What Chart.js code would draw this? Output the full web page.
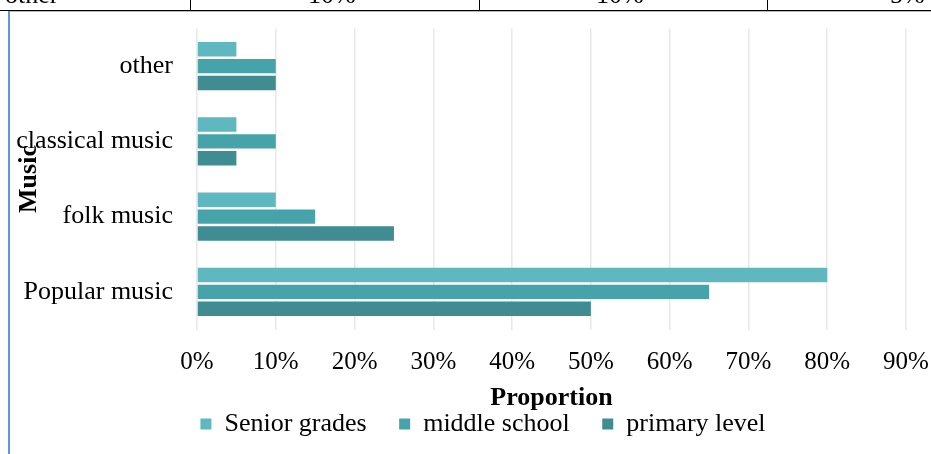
<!DOCTYPE html>
<html>
<head>
<meta charset="utf-8">
<script src="https://cdn.jsdelivr.net/npm/chart.js@4"></script>
<style>
  html, body { margin: 0; padding: 0; background: #fff; overflow: hidden; }
  #wrap { position: relative; width: 931px; height: 454px; overflow: hidden; }
  .cell { position: absolute; top: -18px; font: 26px 'Liberation Serif', 'Times New Roman', serif; line-height: 26px; color: #000; white-space: nowrap; }
  .hline { position: absolute; left: 0; top: 10px; width: 931px; height: 1px; background: #000; }
  .vline { position: absolute; top: 0; width: 1px; height: 10px; background: #000; }
  .blueTop { position: absolute; left: 8px; top: 11px; width: 923px; height: 1px; background: #9dc3e6; }
  .blueLeft { position: absolute; left: 8px; top: 11px; width: 2px; height: 443px; background: #5b9bd5; }
  #chartBox { position: absolute; left: 0; top: 0; width: 931px; height: 454px; }
</style>
</head>
<body>
<div id="wrap">
  <div id="chartBox"><canvas id="c"></canvas></div>
  <span class="cell" style="left:5px">other</span>
  <span class="cell" style="left:308px">10%</span>
  <span class="cell" style="left:596px">10%</span>
  <span class="cell" style="left:890px">5%</span>
  <div class="vline" style="left:190px"></div>
  <div class="vline" style="left:479px"></div>
  <div class="vline" style="left:767px"></div>
  <div class="hline"></div>
  <div class="blueTop"></div>
  <div class="blueLeft"></div>
</div>
<script>
const categories = ['other', 'classical music', 'folk music', 'Popular music'];
const seriesNames = ['Senior grades', 'middle school', 'primary level'];
const seniorGrades = [5, 5, 10, 80];
const middleSchool = [10, 10, 15, 65];
const primaryLevel = [10, 5, 25, 50];
const xTicks = [0, 10, 20, 30, 40, 50, 60, 70, 80, 90];
const colors = ['#5fb8c0', '#46a3aa', '#3f8d92'];

const serif = "'Liberation Serif', 'Times New Roman', serif";
const values = [seniorGrades, middleSchool, primaryLevel];
const legendGap = '\u00a0\u00a0\u00a0\u00a0\u00a0';

const legendShift = {
  id: 'legendShift',
  afterLayout(chart) {
    if (chart.legend) {
      chart.legend.left += 25;
      chart.legend.right += 25;
    }
  }
};

new Chart(document.getElementById('c'), {
  type: 'bar',
  data: {
    labels: categories,
    datasets: seriesNames.map((n, i) => ({
      label: n,
      data: values[i],
      backgroundColor: colors[i],
      borderWidth: 0,
      barPercentage: 0.85,
      categoryPercentage: 0.672
    }))
  },
  plugins: [legendShift],
  options: {
    indexAxis: 'y',
    responsive: true,
    maintainAspectRatio: false,
    animation: false,
    devicePixelRatio: 1,
    layout: { padding: { top: 28.5, left: 10, right: 25, bottom: 7 } },
    plugins: {
      tooltip: { enabled: false },
      legend: {
        position: 'bottom',
        labels: {
          boxWidth: 11,
          boxHeight: 11,
          padding: 0,
          color: '#000',
          font: { family: serif, size: 26 },
          generateLabels(chart) {
            const n = chart.data.datasets.length;
            return chart.data.datasets.map((ds, i) => ({
              text: i < n - 1 ? ds.label + legendGap : ds.label,
              fillStyle: ds.backgroundColor,
              strokeStyle: ds.backgroundColor,
              lineWidth: 0,
              hidden: false,
              datasetIndex: i,
              fontColor: '#000'
            }));
          }
        }
      }
    },
    scales: {
      x: {
        min: 0,
        max: 90,
        afterBuildTicks(scale) { scale.ticks = xTicks.map(v => ({ value: v })); },
        afterFit(scale) { scale.height = 81.5; },
        grid: { display: true, color: '#e8e8e8', lineWidth: 1.5, drawTicks: true, tickLength: 17, tickColor: 'rgba(0,0,0,0)' },
        border: { display: false },
        ticks: {
          padding: 1,
          color: '#000',
          font: { family: serif, size: 25 },
          callback: v => v + '%'
        },
        title: {
          display: true,
          text: 'Proportion',
          color: '#000',
          font: { family: serif, size: 26, weight: 'bold', lineHeight: 1 },
          padding: { top: 0, bottom: 0 }
        }
      },
      y: {
        afterFit(scale) { scale.width = 187; },
        grid: { display: false, drawTicks: false },
        border: { display: false },
        ticks: {
          padding: 24,
          color: '#000',
          font: { family: serif, size: 26, lineHeight: 0.1 }
        },
        title: {
          display: true,
          text: 'Music',
          color: '#000',
          font: { family: serif, size: 26, weight: 'bold', lineHeight: 1 },
          padding: { top: 6, bottom: 0 }
        }
      }
    }
  }
});
</script>
</body>
</html>
